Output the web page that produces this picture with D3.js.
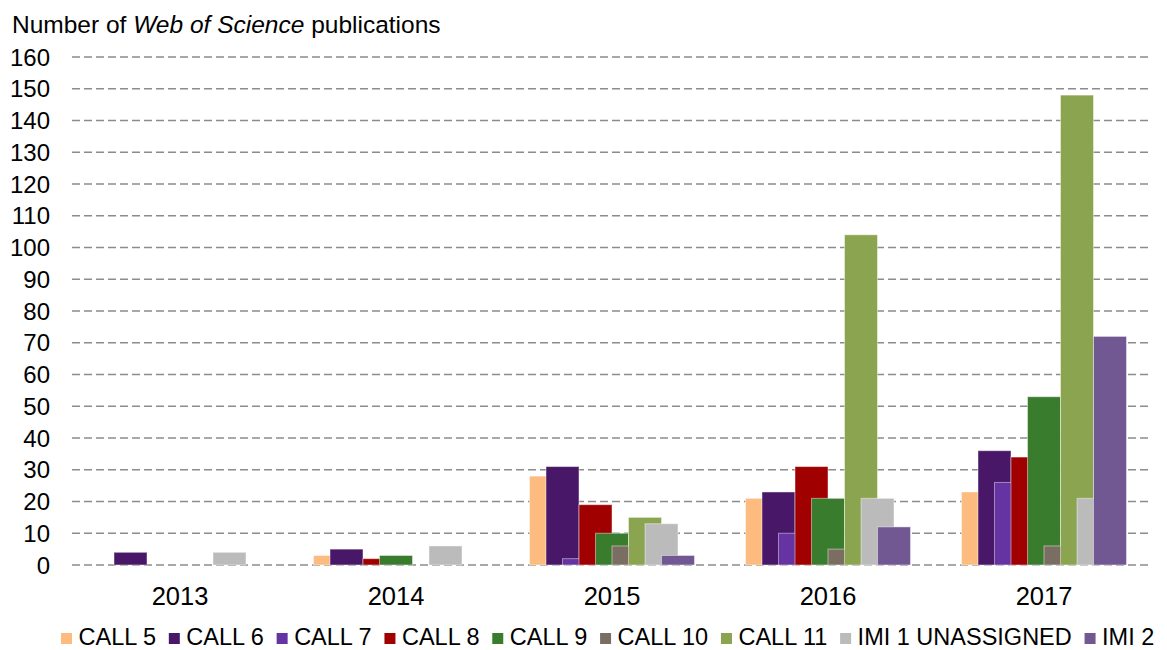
<!DOCTYPE html>
<html>
<head>
<meta charset="utf-8">
<script src="https://cdn.jsdelivr.net/npm/d3@7"></script>
<style>
  body { margin: 0; background: #fff; }
  svg { display: block; font-family: "Liberation Sans", Arial, sans-serif; }
</style>
</head>
<body>
<div id="chart"></div>
<script>
// data
const years = ["2013", "2014", "2015", "2016", "2017"];
const seriesNames = ["CALL 5", "CALL 6", "CALL 7", "CALL 8", "CALL 9", "CALL 10", "CALL 11", "IMI 1 UNASSIGNED", "IMI 2"];
const seriesColors = ["#fdbb7f", "#491767", "#6633a3", "#a10000", "#3a7c2e", "#7a6e62", "#8aa44f", "#bbbbbb", "#715892"];
const call5 = [0, 3, 28, 21, 23];
const call6 = [4, 5, 31, 23, 36];
const call7 = [0, 0, 2, 10, 26];
const call8 = [0, 2, 19, 31, 34];
const call9 = [0, 3, 10, 21, 53];
const call10 = [0, 0, 6, 5, 6];
const call11 = [0, 0, 15, 104, 148];
const imi1 = [4, 6, 13, 21, 21];
const imi2 = [0, 0, 3, 12, 72];
const seriesValues = [call5, call6, call7, call8, call9, call10, call11, imi1, imi2];
const yTicks = d3.range(0, 161, 10);

const width = 1167, height = 650;
const plotLeft = 72, plotRight = 1152, plotTop = 57, plotBottom = 565;

const svg = d3.select("#chart").append("svg").attr("width", width).attr("height", height);

const x = d3.scaleBand().domain(years).range([plotLeft, plotRight]);
const y = d3.scaleLinear().domain([0, 160]).range([plotBottom, plotTop]);

// bars overlap by half their width, like the Excel original
const barW = x.bandwidth() * 33 / 216;
const stepW = barW / 2;
const groupW = stepW * (seriesNames.length - 1) + barW;

// grid lines
svg.append("g").selectAll("line").data(yTicks).join("line")
    .attr("x1", plotLeft).attr("x2", plotRight)
    .attr("y1", d => y(d)).attr("y2", d => y(d))
    .attr("stroke", "#8c8c8c").attr("stroke-width", 1.6)
    .attr("stroke-dasharray", "8,4");

// y labels
svg.append("g").selectAll("text").data(yTicks).join("text")
    .attr("x", 50).attr("y", d => y(d)).attr("dy", "0.36em")
    .attr("text-anchor", "end").attr("font-size", 24).attr("fill", "#000")
    .text(d => d);

// title
const title = svg.append("text").attr("x", 12).attr("y", 33).attr("font-size", 24.5).attr("fill", "#000");
title.append("tspan").text("Number of ");
title.append("tspan").attr("font-style", "italic").text("Web of Science");
title.append("tspan").text(" publications");

// bars, drawn series by series so later ones sit on top
seriesNames.forEach((name, s) => {
    svg.append("g").selectAll("rect").data(seriesValues[s]).join("rect")
        .attr("x", (d, i) => x(years[i]) + x.bandwidth() / 2 - groupW / 2 + s * stepW)
        .attr("width", barW)
        .attr("y", d => y(d))
        .attr("height", d => y(0) - y(d))
        .attr("fill", seriesColors[s])
        .attr("stroke", d => d > 0 ? "rgba(255,255,255,0.45)" : "none")
        .attr("stroke-width", 1);
});

// category labels
svg.append("g").selectAll("text").data(years).join("text")
    .attr("x", d => x(d) + x.bandwidth() / 2).attr("y", 605)
    .attr("text-anchor", "middle").attr("font-size", 25.5).attr("fill", "#000")
    .text(d => d);

// legend
const legend = svg.append("g");
let lx = 61;
seriesNames.forEach((name, s) => {
    legend.append("rect").attr("x", lx).attr("y", 633).attr("width", 11).attr("height", 11)
        .attr("fill", seriesColors[s]);
    const t = legend.append("text").attr("x", lx + 17.5).attr("y", 645)
        .attr("font-size", 23.5).attr("fill", "#000").text(name);
    lx += 17.5 + t.node().getComputedTextLength() + 12.8;
});
</script>
</body>
</html>
